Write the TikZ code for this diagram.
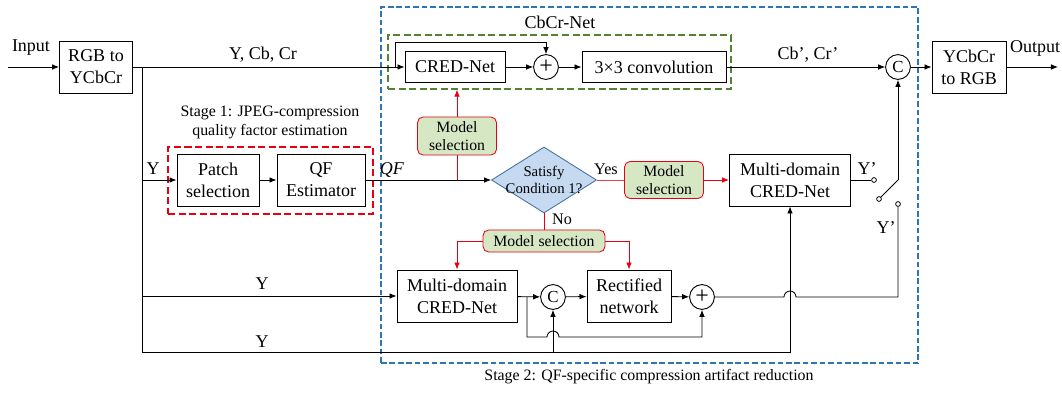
\documentclass[tikz,border=0pt]{standalone}
\usepackage{fontspec}
\setmainfont{Liberation Serif}
\usetikzlibrary{shapes.geometric,arrows.meta,positioning,calc,fit}

\definecolor{stageblue}{RGB}{46,117,182}
\definecolor{netgreen}{RGB}{84,130,53}
\definecolor{stagered}{RGB}{230,0,18}
\definecolor{selfill}{RGB}{214,231,196}
\definecolor{condfill}{RGB}{197,217,241}
\definecolor{condedge}{RGB}{65,113,156}

\begin{document}
\begin{tikzpicture}[x=0.025cm, y=-0.025cm,
    font=\fontsize{12.8}{15.6}\selectfont,
    line width=0.6pt,
    blk/.style={draw, line width=0.65pt, align=center, inner sep=0pt, minimum height=1.3cm},
    sel/.style={draw=stagered, fill=selfill, rounded corners=4pt, align=center, inner sep=0pt,
                font=\fontsize{11.2}{12.8}\selectfont},
    sumc/.style={circle, draw, line width=0.65pt, inner sep=0pt, minimum size=0.62cm,
                 font=\fontsize{12}{12}\selectfont},
    plusc/.style={sumc, font=\fontsize{17}{17}\selectfont},
    cond/.style={diamond, draw=condedge, fill=condfill, inner sep=0pt,
                 minimum width=2.625cm, minimum height=1.65cm},
    swdot/.style={circle, draw, fill=white, inner sep=0pt, minimum size=0.12cm, line width=0.55pt},
    small/.style={align=center, font=\fontsize{11.3}{13.5}\selectfont},
    arr/.style={-{Latex[length=5pt,width=4pt]}},
    redarr/.style={stagered, -{Latex[length=5pt,width=4pt]}},
    grp/.style={inner sep=0pt, line width=0.85pt},
]
\useasboundingbox (0,0) rectangle (1062,393);

% group frames
\node[grp, draw=stageblue, dash pattern=on 4pt off 2pt, fit={(381,7) (918,363)}] (stagetwo) {};
\node[grp, draw=netgreen, dash pattern=on 5pt off 2.5pt, fit={(388,35) (731,89)}] (cbcrbox) {};
\node[grp, draw=stagered, dash pattern=on 5pt off 2.5pt, fit={(168,147) (373,214)}] (stageone) {};

% blocks
\node[blk, minimum width=1.825cm] (rgb) at (96,67) {RGB to\\YCbCr};
\node[blk, minimum width=1.85cm] (ycc) at (969,67) {YCbCr\\to RGB};
\node[blk, minimum width=2.5cm, minimum height=0.775cm] (cred) at (455,67) {CRED-Net};
\node[plusc] (plusa) at (546,67) {+};
\node[blk, minimum width=3.6cm, minimum height=0.775cm] (conv) at (654,67) {3×3 convolution};
\node[sumc] (cata) at (898,67) {C};
\node[blk, minimum width=2.05cm] (patch) at (218,180) {Patch\\selection};
\node[blk, minimum width=2.2cm] (qfe) at (321,180) {QF\\Estimator};
\node[sel, minimum width=1.975cm, minimum height=0.95cm] (sela) at (457,136) {Model\\selection};
\node[cond] (cond) at (544,180) {};
\node[align=center, font=\fontsize{10.5}{12}\selectfont] (condlbl) at (cond) {Satisfy\\Condition 1?};
\node[sel, minimum width=1.975cm, minimum height=0.925cm] (selb) at (664,180) {Model\\selection};
\node[blk, minimum width=3.025cm] (mda) at (790,180) {Multi-domain\\CRED-Net};
\node[sel, minimum width=3.05cm, minimum height=0.55cm] (selc) at (544,241) {Model selection};
\node[blk, minimum width=3cm] (mdb) at (457,296) {Multi-domain\\CRED-Net};
\node[sumc] (catb) at (553,297) {C};
\node[blk, minimum width=2.1cm] (rect) at (629,296) {Rectified\\network};
\node[plusc] (plusb) at (702,297) {+};

% switch
\node[swdot] (swa) at (874,180) {};
\node[swdot] (swb) at (879,199) {};
\node[swdot] (swc) at (898,204) {};

% labels
\node (inlbl) at (31,48) {Input};
\node (outlbl) at (1035,48) {Output};
\node (ycbcrlbl) at (263,55) {Y, Cb, Cr};
\node (cbcrplbl) at (808,55) {Cb', Cr'};
\node (cbcrlbl) at (560,22) {CbCr-Net};
\node (yalbl) at (153,169) {Y};
\node (yblbl) at (262,284) {Y};
\node (yclbl) at (262,342) {Y};
\node (qflbl) at (392,170) {\textit{QF}};
\node[font=\fontsize{11.5}{12}\selectfont] (yeslbl) at (606,169) {Yes};
\node[font=\fontsize{11.5}{12}\selectfont] (nolbl) at (562,219) {No};
\node (ypalbl) at (867,169) {Y'};
\node (ypblbl) at (886,228) {Y'};
\node[small] (stageonelbl) at (270,122) {Stage 1: JPEG-compression\\quality factor estimation};
\node[small] (stagetwolbl) at (649,377) {Stage 2: QF-specific compression artifact reduction};

% end points
\coordinate (inp) at (8,67);
\coordinate (outp) at (1058,67);
\coordinate (jtop) at (142,67);
\coordinate (jbot) at (142,352);
\coordinate (byp) at (395,67);
\coordinate (swtop) at (898,180);
\coordinate (brk) at (527,297);

% CbCr path
\draw[arr] (inp) -- (rgb);
\draw[arr] (rgb) -- (cred);
\draw[arr] (byp) -- ++(0,-25) -| (plusa);
\draw[arr] (cred) -- (plusa);
\draw[arr] (plusa) -- (conv);
\draw[arr] (conv) -- (cata);
\draw[arr] (cata) -- (ycc);
\draw[arr] (ycc) -- (outp);

% Y branches
\draw (jtop) -- (jbot);
\draw[arr] (jtop |- patch) -- (patch);
\draw[arr] (jtop |- mdb) -- (mdb);
\draw[arr] (jbot) -| (mda);
\draw[arr] (catb |- jbot) -- (catb);

% Stage 1
\draw[arr] (patch) -- (qfe);
\draw[arr] (qfe) -- (cond);

% model selection
\draw[stagered] (sela |- qfe) -- (sela);
\draw[redarr] (sela) -- (sela |- cbcrbox.south);
\draw[stagered!75] (cond) -- (selb);
\draw[redarr] (selb) -- (mda);
\draw[stagered] (cond) -- (selc);
\draw[redarr] (selc) -| (mdb);
\draw[redarr] (selc) -| (rect);

% rectification
\draw[arr] (mdb) -- (catb);
\draw[arr] (catb) -- (rect);
\draw[arr] (rect) -- (plusb);
\draw[arr] (brk) -- (527,337) -- (547,337) arc[start angle=180, end angle=0, radius=0.15cm] -| (plusb);
\draw (plusb) -- (784,297) arc[start angle=180, end angle=0, radius=0.15cm] -| (swc);

% switch
\draw (mda) -- (swa);
\draw (swb) -- (swtop);
\draw[arr] (swtop) -- (cata);
\end{tikzpicture}
\end{document}
